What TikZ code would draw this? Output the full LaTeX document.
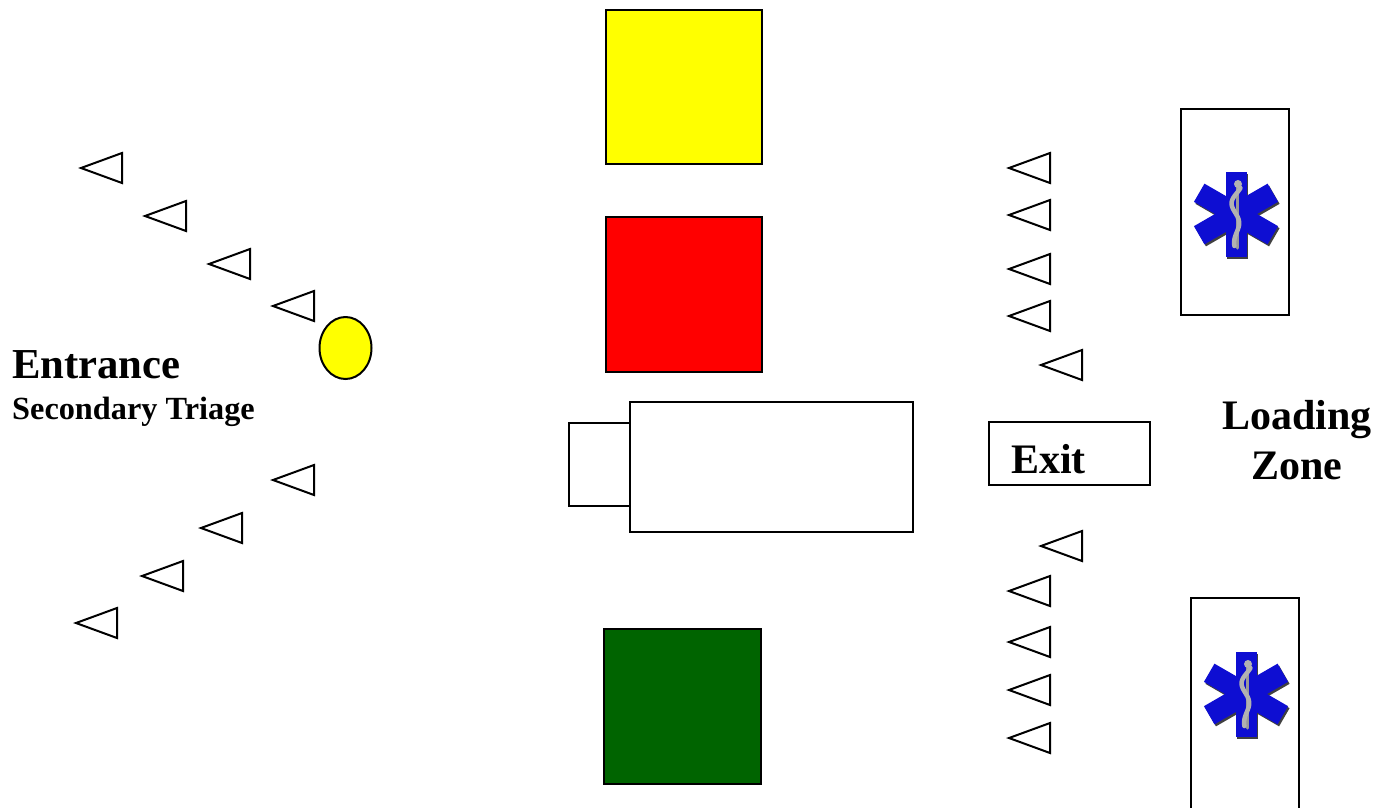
\documentclass[tikz,border=0pt]{standalone}
\usepackage{fontspec}
\setmainfont{Liberation Serif}
\definecolor{zoneyellow}{RGB}{255,255,0}
\definecolor{zonegreen}{RGB}{0,100,0}
\definecolor{starblue}{RGB}{14,14,210}
\tikzset{
  outline/.style={draw=black,line width=1.6pt},
  flow/.style={draw=black,line width=2pt,line join=miter,fill=white},
  bigtext/.style={font=\bfseries\fontsize{42}{42}\selectfont,inner sep=0pt},
  lifestar/.pic={
    % drop shadow, then the three bars, then the staff
    \foreach \a in {0,60,120}
      \fill [black!75,rotate around={\a:(1.5,2)}] (-9,-40.5) rectangle (12,44.5);
    \foreach \a in {0,60,120}
      \fill [starblue,rotate=\a] (-10.5,-42.5) rectangle (10.5,42.5);
    \draw [black!40,line width=3pt,line cap=round]
      (1,-32) -- (1,34);
    \draw [black!30,line width=4.5pt,line cap=round,domain=-26:32,samples=40,smooth]
      plot ({5.5*sin(\x*9)*(1-(\x+26)/85)},\x);
    \fill [black!30] (2,-30) circle (4pt);
  }
}
\begin{document}
\begin{tikzpicture}[x=1pt,y=-1pt]
  \useasboundingbox (0,0) rectangle (1388,807);
  \clip (0,0) rectangle (1388,807);

  % the flow markers, tip x and tip y
  \foreach \x/\y in {81/168,145/216,209/264,273/306,273/480,201/528,142/576,76/623,
                     1009/168,1009/215,1009/269,1009/316,1041/365,
                     1041/546,1009/591,1009/642,1009/690,1009/738}
    \draw [flow] (\x,\y) -- ++(41,-15) -- ++(0,30) -- cycle;

  % the treatment areas
  \draw [outline,fill=zoneyellow] (606,10) rectangle (762,164);
  \draw [outline,fill=red] (606,217) rectangle (762,372);
  \draw [outline,fill=zonegreen] (604,629) rectangle (761,784);
  \draw [outline,fill=white] (569,423) rectangle (630,506);
  \draw [outline,fill=white] (630,402) rectangle (913,532);

  % triage point
  \draw [flow,fill=zoneyellow] (345.5,348) ellipse (26 and 31);

  % exit and the two ambulances
  \draw [outline,fill=white] (989,422) rectangle (1150,485);
  \draw [outline,fill=white] (1181,109) rectangle (1289,315);
  \draw [outline,fill=white] (1191,598) rectangle (1299,820);
  \pic at (1236,214) {lifestar};
  \pic at (1246,694) {lifestar};

  % labels
  \node [bigtext,font=\bfseries\fontsize{42.7}{42.7}\selectfont,anchor=base west] (entrance) at (12,378) {Entrance};
  \node [bigtext,font=\bfseries\fontsize{32.3}{32.3}\selectfont,anchor=base west] (triage) at (12,419) {Secondary Triage};
  \node [bigtext,anchor=base west] (exit) at (1011,473) {Exit};
  \node [bigtext,anchor=base] (loading) at (1297,429) {Loading};
  \node [bigtext,anchor=base] (zone) at (1297,479) {Zone};
\end{tikzpicture}
\end{document}
